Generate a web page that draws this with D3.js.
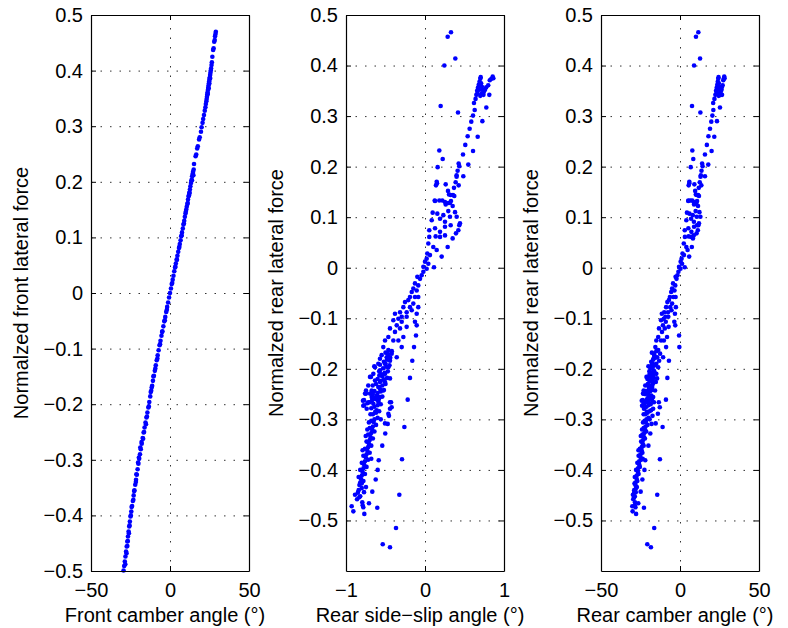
<!DOCTYPE html>
<html>
<head>
<meta charset="utf-8">
<script src="https://cdn.jsdelivr.net/npm/d3@7"></script>
<style>
  body { margin: 0; background: #fff; }
  svg text { font-family: "Liberation Sans", Arial, sans-serif; }
</style>
</head>
<body>
<div id="wrapper"></div>
<script>
// front: [camber angle (deg), normalized front lateral force]
const frontPoints = [
  [29.0,0.470],[28.8,0.466],[28.5,0.462],[28.3,0.455],[28.0,0.452],[27.6,0.440],[27.3,0.437],[26.8,0.425],
  [26.5,0.415],[26.3,0.410],[26.0,0.404],[25.8,0.400],[25.6,0.396],[25.4,0.392],[25.2,0.388],[25.0,0.385],
  [24.8,0.381],[24.6,0.377],[24.4,0.373],[24.2,0.369],[24.0,0.365],[23.8,0.361],[23.6,0.357],[23.4,0.353],
  [23.2,0.349],[23.0,0.345],[22.7,0.340],[22.4,0.334],[22.0,0.328],[21.5,0.320],[21.0,0.313],[20.6,0.306],
  [20.0,0.298],[19.6,0.290],[18.8,0.280],[18.4,0.276],[17.6,0.264],[17.2,0.260],[16.2,0.246],[16.6,0.249],
  [15.2,0.232],[15.0,0.222],[14.6,0.218],[14.3,0.214],[14.0,0.210],[13.6,0.203],[13.3,0.198],[12.9,0.192],
  [12.6,0.186],[12.2,0.180],[11.8,0.174],[11.4,0.168],[11.0,0.160],[10.6,0.155],[10.3,0.150],[9.8,0.143],
  [9.4,0.137],[9.0,0.130],[8.5,0.123],[8.1,0.116],[7.6,0.109],[7.1,0.102],[6.7,0.095],[6.2,0.088],
  [5.7,0.081],[5.2,0.074],[4.7,0.067],[4.2,0.060],[3.7,0.053],[3.2,0.046],[2.7,0.039],[2.2,0.031],
  [1.7,0.024],[1.1,0.016],[0.6,0.008],[0.0,0.000],[-0.6,-0.008],[-1.2,-0.017],[-1.8,-0.025],[-2.4,-0.034],
  [-3.0,-0.043],[-3.6,-0.051],[-4.2,-0.060],[-4.8,-0.069],[-5.4,-0.077],[-6.0,-0.086],[-6.6,-0.094],[-7.2,-0.103],
  [-7.8,-0.112],[-8.4,-0.121],[-9.0,-0.130],[-9.6,-0.140],[-10.2,-0.149],[-10.8,-0.158],[-11.3,-0.167],[-11.9,-0.176],
  [-12.5,-0.186],[-13.1,-0.196],[-13.7,-0.206],[-14.3,-0.215],[-14.9,-0.224],[-15.5,-0.233],[-16.1,-0.242],[-16.7,-0.251],
  [-17.3,-0.261],[-17.9,-0.271],[-18.5,-0.281],[-19.0,-0.290],[-19.5,-0.298],[-20.0,-0.307],[-20.5,-0.317],[-21.0,-0.327],
  [-21.5,-0.336],[-22.0,-0.345],[-22.5,-0.355],[-23.0,-0.364],[-23.5,-0.374],[-24.0,-0.383],[-24.5,-0.393],[-25.0,-0.402],
  [-25.4,-0.411],[-25.8,-0.420],[-26.2,-0.429],[-26.6,-0.438],[-27.0,-0.447],[-27.4,-0.456],[-27.8,-0.465],[-28.2,-0.474],
  [-28.6,-0.483],[-29.0,-0.491],[-29.4,-0.499],
  [-27.0,-0.455],[-26.0,-0.432],[-24.8,-0.400],[-23.2,-0.372],[-21.6,-0.340],[-20.2,-0.305],[-18.0,-0.268],[-16.4,-0.250],
  [-14.6,-0.222],[-12.2,-0.178],[-10.5,-0.150],[-8.0,-0.118],[-5.0,-0.070],[-2.0,-0.030],[1.4,0.018],[4.4,0.060],
  [7.4,0.104],[10.0,0.146],[12.4,0.180],[14.8,0.212],[13.9,0.203],[12.0,0.176],[24.9,0.377],[24.5,0.368],
  [23.9,0.358],[25.4,0.386],
  [-28.3,-0.488],[-27.5,-0.468],[-26.7,-0.446],[-25.6,-0.418],[-24.3,-0.385],[-22.7,-0.356],[-21.3,-0.326],[-19.7,-0.296],
  [-18.8,-0.278],[-17.0,-0.262],[-15.2,-0.236],[-13.4,-0.204],[-11.6,-0.170],[-9.3,-0.136],[-6.3,-0.092],[-3.3,-0.049],
  [3.4,0.047],[5.9,0.083],[8.8,0.125],[11.2,0.162]
];

// rear: [side-slip angle (deg), rear camber angle (deg), normalized rear lateral force]
const rearPoints = [
  [0.329,11.6,0.466],[0.287,10.1,0.457],[0.384,12.7,0.414],[0.245,8.9,0.400],[0.198,7.6,0.320],[0.418,12.9,0.307],
  [0.62,21.0,0.326],[0.64,21.8,0.334],[0.65,22.4,0.342],[0.66,22.8,0.350],[0.67,23.2,0.356],[0.68,23.6,0.362],
  [0.69,23.9,0.368],[0.70,24.2,0.374],[0.705,24.4,0.377],[0.665,23.1,0.345],[0.685,23.8,0.352],[0.695,24.0,0.360],
  [0.71,24.6,0.365],[0.72,24.9,0.358],[0.73,25.3,0.352],[0.745,25.8,0.348],[0.76,26.3,0.352],[0.775,26.4,0.357],
  [0.80,27.0,0.361],[0.82,27.4,0.371],[0.857,28.0,0.378],[0.865,28.2,0.375],[0.84,27.7,0.374],[0.814,26.6,0.342],
  [0.776,25.3,0.317],[0.726,23.4,0.290],[0.74,25.6,0.342],[0.72,25.0,0.345],[0.70,24.5,0.340],
  [0.629,21.1,0.312],[0.608,20.5,0.301],[0.586,19.8,0.289],[0.565,19.0,0.275],[0.540,18.0,0.260],[0.667,21.7,0.259],
  [0.510,17.0,0.243],[0.608,20.0,0.231],[0.481,15.8,0.224],[0.181,7.8,0.232],[0.224,8.4,0.215],[0.548,17.9,0.204],
  [0.426,14.0,0.206],[0.434,14.3,0.201],[0.413,13.6,0.192],[0.400,13.2,0.183],[0.400,13.0,0.180],[0.485,15.8,0.181],
  [0.160,6.8,0.199],[0.148,5.9,0.170],[0.139,5.5,0.163],[0.152,5.9,0.167],[0.262,9.1,0.165],[0.388,12.5,0.169],
  [0.367,11.9,0.158],[0.426,13.5,0.163],[0.291,9.6,0.152],[0.304,10.0,0.145],[0.325,10.6,0.144],[0.354,11.5,0.144],
  [0.371,12.0,0.142],[0.123,5.3,0.133],[0.181,6.6,0.133],[0.219,7.8,0.133],[0.262,8.9,0.125],[0.295,9.8,0.128],
  [0.329,10.8,0.132],[0.350,11.4,0.122],[0.127,5.2,0.132],[0.253,8.7,0.130],[0.316,10.4,0.128],
  [0.097,4.4,0.109],[0.156,6.0,0.107],[0.232,8.1,0.104],[0.295,9.9,0.112],[0.380,12.3,0.110],
  [0.085,4.0,0.094],[0.190,7.0,0.097],[0.253,8.8,0.091],[0.316,10.6,0.101],[0.401,12.9,0.101],
  [0.434,11.6,0.084],[0.443,12.0,0.088],[0.422,11.3,0.074],[0.392,10.5,0.068],
  [0.054,3.0,0.074],[0.127,5.3,0.078],[0.190,7.2,0.071],[0.253,8.9,0.081],[0.325,10.8,0.084],
  [0.054,3.1,0.061],[0.135,5.4,0.062],[0.190,7.0,0.061],[0.253,8.7,0.064],[0.350,8.2,0.058],
  [0.287,7.5,0.041],[0.211,5.8,0.022],[0.114,3.0,0.001],[0.042,2.4,0.048],[0.105,4.0,0.041],[0.148,4.8,0.035],
  [0.029,1.6,0.028],[0.063,2.5,0.025],[0.021,1.0,0.018],[0.000,0.4,0.012],[0.042,1.3,0.008],[-0.021,-0.6,0.002],
  [0.021,0.3,-0.002],[-0.021,-1.0,-0.008],[-0.042,-1.6,-0.015],[-0.063,-2.2,-0.022],[-0.097,-2.8,-0.018],
  [-0.127,-4.4,-0.031],[-0.085,-3.0,-0.035],[-0.148,-5.0,-0.041],[-0.105,-3.5,-0.045],[-0.168,-5.6,-0.048],
  [-0.190,-6.4,-0.058],[-0.127,-4.2,-0.058],[-0.085,-2.8,-0.058],[-0.211,-7.0,-0.064],[-0.148,-5.0,-0.071],
  [-0.253,-8.0,-0.068],[-0.190,-6.2,-0.078],[-0.274,-8.8,-0.078],[-0.168,-5.4,-0.084],[-0.232,-7.6,-0.088],
  [-0.085,-2.6,-0.078],[-0.105,-3.2,-0.091],
  [-0.316,-10.0,-0.088],[-0.232,-7.4,-0.097],[-0.295,-9.2,-0.097],[-0.380,-11.5,-0.091],[-0.337,-10.3,-0.101],
  [-0.401,-12.0,-0.104],[-0.127,-3.6,-0.107],[-0.295,-9.0,-0.107],[-0.232,-7.2,-0.117],[-0.358,-10.8,-0.114],
  [-0.443,-13.3,-0.120],[-0.316,-9.6,-0.120],[-0.380,-11.4,-0.127],[-0.105,-3.0,-0.114],[-0.274,-8.2,-0.137],
  [-0.464,-13.8,-0.137],[-0.401,-12.0,-0.144],[-0.337,-10.2,-0.144],[-0.506,-15.0,-0.144],[-0.295,-8.8,-0.157],
  [-0.114,-0.6,-0.134],[-0.139,-0.4,-0.157],
  [-0.528,-15.6,-0.157],[-0.464,-13.8,-0.163],[-0.422,-12.6,-0.170],[-0.549,-16.2,-0.173],[-0.485,-14.4,-0.177],
  [-0.443,-13.2,-0.184],[-0.570,-16.8,-0.180],[-0.358,-10.7,-0.177],[-0.591,-17.4,-0.190],[-0.506,-15.0,-0.190],
  [-0.464,-13.8,-0.197],[-0.633,-18.6,-0.197],[-0.570,-16.8,-0.203],[-0.654,-19.2,-0.210],[-0.578,-17.0,-0.213],
  [-0.506,-15.0,-0.210],[-0.161,-7.0,-0.184],[-0.190,-8.0,-0.218],
  [-0.696,-20.3,-0.216],[-0.633,-18.7,-0.223],[-0.570,-17.0,-0.226],[-0.506,-15.3,-0.226],[-0.662,-19.6,-0.233],
  [-0.718,-22.0,-0.233],[-0.591,-17.6,-0.236],[-0.675,-19.8,-0.243],[-0.747,-23.0,-0.243],[-0.528,-15.8,-0.243],
  [-0.696,-20.4,-0.249],[-0.612,-18.2,-0.253],[-0.759,-23.4,-0.249],[-0.675,-19.9,-0.256],[-0.570,-17.0,-0.256],
  [-0.785,-24.2,-0.263],[-0.718,-22.0,-0.266],[-0.781,-24.0,-0.273],[-0.654,-19.4,-0.269],[-0.591,-17.6,-0.263],
  [-0.738,-22.8,-0.279],[-0.612,-18.3,-0.282],[-0.443,-13.4,-0.266],[-0.422,-12.8,-0.276],[-0.219,-8.9,-0.261],
  [-0.464,-14.0,-0.289],[-0.506,-15.4,-0.308],[-0.261,-11.0,-0.315],
  [-0.291,-12.7,-0.379],[-0.325,-14.4,-0.449],[-0.367,-16.3,-0.515],[-0.535,-20.7,-0.547],[-0.443,-18.4,-0.553],
  [-0.604,-22.8,-0.475],[-0.709,-26.4,-0.466],[-0.667,-24.9,-0.443],[-0.886,-29.8,-0.449],[-0.928,-30.2,-0.472],
  [-0.907,-30.0,-0.482],[-0.832,-29.0,-0.454],[-0.794,-28.5,-0.464],[-0.781,-28.2,-0.474],[-0.768,-27.8,-0.487],
  [-0.789,-28.6,-0.470],[-0.624,-23.8,-0.419],[-0.747,-27.3,-0.434],[-0.801,-28.8,-0.427],[-0.772,-28.0,-0.444],
  [-0.599,-22.5,-0.400],[-0.586,-22.0,-0.381],[-0.541,-20.0,-0.352],[-0.503,-18.8,-0.328],[-0.472,-18.0,-0.309],
  [-0.456,-17.4,-0.293],[-0.443,-17.0,-0.279],[-0.430,-16.5,-0.266],[-0.772,-23.5,-0.262],[-0.772,-23.6,-0.272],
  [-0.747,-23.0,-0.249],[-0.684,-21.2,-0.216],[-0.642,-20.0,-0.195],[-0.570,-17.8,-0.192],[-0.443,-14.5,-0.219],
  [-0.73,-22.7,-0.268],[-0.70,-21.8,-0.266],[-0.67,-21.0,-0.262],[-0.64,-20.2,-0.258],[-0.61,-19.3,-0.254],
  [-0.42,-15.0,-0.165],[-0.47,-16.6,-0.170],[-0.50,-17.8,-0.168],[-0.44,-15.6,-0.178],[-0.48,-17.0,-0.182],
  [-0.52,-18.2,-0.186],[-0.45,-15.8,-0.193],[-0.49,-17.2,-0.196],[-0.53,-18.6,-0.199],[-0.47,-16.3,-0.205],
  [-0.51,-17.6,-0.208],[-0.55,-19.0,-0.211],[-0.48,-16.6,-0.218],[-0.52,-18.0,-0.221],[-0.56,-19.3,-0.224],
  [-0.60,-20.6,-0.220],[-0.50,-17.2,-0.230],[-0.54,-18.5,-0.233],[-0.58,-19.8,-0.236],[-0.52,-17.6,-0.242],
  [-0.56,-19.0,-0.245],[-0.60,-20.3,-0.248],[-0.64,-21.6,-0.244],[-0.54,-18.0,-0.255],[-0.58,-19.4,-0.258],
  [-0.62,-20.8,-0.260],[-0.56,-18.6,-0.270],[-0.60,-20.0,-0.272],[-0.64,-21.2,-0.275],[-0.68,-22.5,-0.278],
  [-0.58,-19.3,-0.284],[-0.62,-20.6,-0.287],[-0.66,-21.8,-0.290],[-0.60,-19.9,-0.297],[-0.64,-21.2,-0.300],
  [-0.68,-22.4,-0.303],[-0.71,-23.4,-0.306],[-0.56,-19.2,-0.300],[-0.62,-20.6,-0.311],[-0.66,-21.8,-0.314],
  [-0.70,-23.0,-0.317],[-0.64,-21.4,-0.324],[-0.68,-22.6,-0.327],[-0.72,-23.8,-0.330],[-0.75,-24.8,-0.333],
  [-0.66,-22.2,-0.338],[-0.70,-23.4,-0.341],[-0.74,-24.6,-0.344],[-0.68,-23.0,-0.352],[-0.72,-24.2,-0.355],
  [-0.76,-25.4,-0.358],[-0.79,-26.3,-0.361],[-0.70,-23.8,-0.366],[-0.74,-25.0,-0.369],[-0.78,-26.2,-0.372],
  [-0.68,-23.6,-0.378],[-0.72,-24.6,-0.380],[-0.76,-25.8,-0.383],[-0.80,-27.0,-0.386],[-0.74,-25.4,-0.394],
  [-0.78,-26.6,-0.397],[-0.82,-27.8,-0.400],[-0.76,-26.2,-0.408],[-0.80,-27.4,-0.411],[-0.84,-28.6,-0.414],
  [-0.78,-27.0,-0.422],[-0.82,-28.2,-0.425],[-0.80,-27.8,-0.436],[-0.84,-29.0,-0.440],[-0.82,-28.6,-0.452],
  [-0.86,-29.6,-0.458],
  [-0.46,-16.2,-0.175],[-0.50,-17.4,-0.190],[-0.54,-18.8,-0.215],[-0.57,-19.6,-0.240],[-0.59,-20.0,-0.265],
  [-0.63,-21.0,-0.285],[-0.65,-21.6,-0.305],[-0.67,-22.2,-0.320],[-0.69,-22.8,-0.335],[-0.71,-23.6,-0.348],
  [-0.73,-24.2,-0.362],[-0.75,-25.0,-0.375],[-0.77,-25.8,-0.390],[-0.79,-26.6,-0.404],[-0.81,-27.4,-0.418],
  [-0.83,-28.2,-0.430],[-0.85,-29.0,-0.445],[-0.66,-22.0,-0.250],[-0.69,-23.0,-0.290],[-0.73,-24.0,-0.320],
  [-0.62,-20.4,-0.230],[-0.58,-19.4,-0.205]
];

const angleTicks = [-50, 0, 50];
const slipTicks = [-1, 0, 1];
const forceTicks = [-0.5, -0.4, -0.3, -0.2, -0.1, 0, 0.1, 0.2, 0.3, 0.4, 0.5];

const xLabels = ["Front camber angle (\u00b0)", "Rear side\u2212slip angle (\u00b0)", "Rear camber angle (\u00b0)"];
const yLabels = ["Normalzed front lateral force", "Normalzed rear lateral force", "Normalzed rear lateral force"];

function buildPlot() {
    var dimention = {
        width: 788,
        height: 628,
        top: 15,
        boundedWidth: 158,
        boundedHeight: 556,
    };

    const svg = d3.select("#wrapper").append("svg")
        .attr("width", dimention.width)
        .attr("height", dimention.height);

    const panels = [
        { left: 91, data: frontPoints, x: d => d[0], y: d => d[1], xDomain: [-50, 50], xTicks: angleTicks, yDomain: [-0.5, 0.5] },
        { left: 346, data: rearPoints, x: d => d[0], y: d => d[2], xDomain: [-1, 1], xTicks: slipTicks, yDomain: [-0.6, 0.5] },
        { left: 601, data: rearPoints, x: d => d[1], y: d => d[2], xDomain: [-50, 50], xTicks: angleTicks, yDomain: [-0.6, 0.5] },
    ];

    const fmtY = d => d === 0 ? "0" : d3.format(".1f")(d);
    const w = dimention.boundedWidth, h = dimention.boundedHeight;

    panels.forEach((p, i) => {
        const g = svg.append("g").attr("transform", `translate(${p.left},${dimention.top})`);
        const xScaler = d3.scaleLinear().domain(p.xDomain).range([0, w]);
        const yScaler = d3.scaleLinear().domain(p.yDomain).range([h, 0]);

        // dotted grid
        const gx = g.append("g").attr("transform", `translate(0,${h})`)
            .call(d3.axisBottom(xScaler).tickValues(p.xTicks).tickSize(-h).tickFormat(""));
        const gy = g.append("g")
            .call(d3.axisLeft(yScaler).tickValues(forceTicks).tickSize(-w).tickFormat(""));
        [gx, gy].forEach(a => {
            a.select(".domain").remove();
            a.selectAll("line").attr("stroke", "#333").attr("stroke-dasharray", "1.5,8");
        });

        g.selectAll("circle").data(p.data).join("circle")
            .attr("cx", d => xScaler(p.x(d)))
            .attr("cy", d => yScaler(p.y(d)))
            .attr("r", 2.3)
            .attr("fill", "#0000ff");

        // box + inward ticks on all four sides
        const axes = [
            g.append("g").attr("transform", `translate(0,${h})`)
                .call(d3.axisBottom(xScaler).tickValues(p.xTicks).tickSize(-5).tickSizeOuter(0).tickPadding(12).tickFormat(d3.format("d"))),
            g.append("g")
                .call(d3.axisTop(xScaler).tickValues(p.xTicks).tickSize(-5).tickSizeOuter(0).tickFormat("")),
            g.append("g")
                .call(d3.axisLeft(yScaler).tickValues(forceTicks).tickSize(-5).tickSizeOuter(0).tickPadding(8).tickFormat(fmtY)),
            g.append("g").attr("transform", `translate(${w},0)`)
                .call(d3.axisRight(yScaler).tickValues(forceTicks).tickSize(-5).tickSizeOuter(0).tickFormat("")),
        ];
        axes.forEach(a => {
            a.select(".domain").attr("stroke", "#000").attr("stroke-width", 1.2);
            a.selectAll("line").attr("stroke", "#000");
            a.selectAll("text").attr("font-size", 20).attr("fill", "#000")
                .style("font-family", "'Liberation Sans', Arial, sans-serif");
        });

        g.append("text")
            .attr("x", w / 2 - 5)
            .attr("y", h + 51)
            .attr("text-anchor", "middle")
            .attr("font-size", 20)
            .text(xLabels[i]);

        g.append("text")
            .attr("transform", `translate(-63,${h / 2}) rotate(-90)`)
            .attr("text-anchor", "middle")
            .attr("font-size", 20)
            .text(yLabels[i]);
    });
}

buildPlot();
</script>
</body>
</html>
